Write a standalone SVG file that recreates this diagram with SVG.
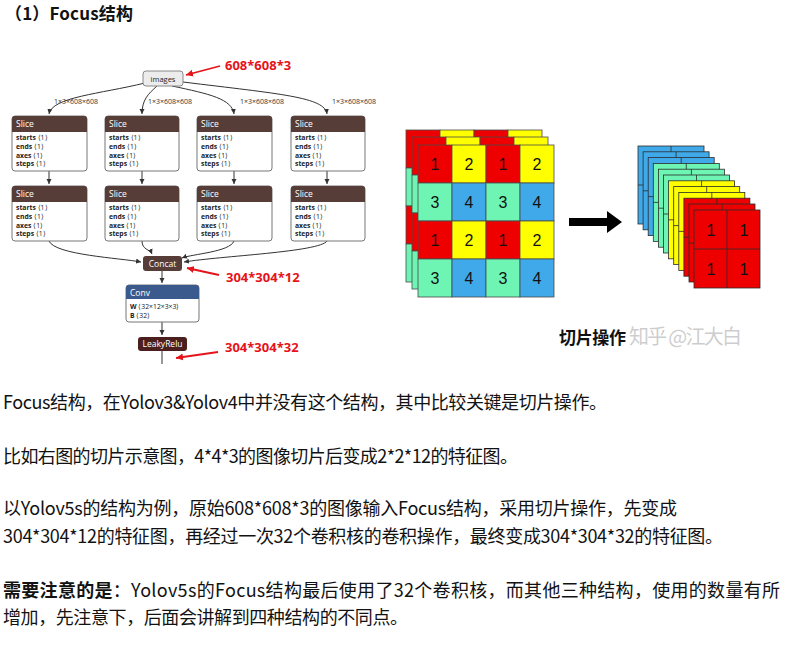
<svg xmlns="http://www.w3.org/2000/svg" xmlns:xlink="http://www.w3.org/1999/xlink" width="794" height="660" viewBox="0 0 794 660">
<style>
.body{font-family:"Noto Sans CJK SC","Microsoft YaHei",sans-serif;font-size:18px;fill:#121212}
.title{font-family:"Noto Sans CJK SC",sans-serif;font-size:17px;font-weight:bold;fill:#121212}
.edge{fill:none;stroke:#333;stroke-width:1}
.elabel{font-family:"Open Sans","Liberation Sans",sans-serif;font-size:7px;fill:#333}
.hdr{font-family:"Open Sans","Liberation Sans",sans-serif;font-size:8.5px;fill:#fff}
.attr{font-family:"Open Sans","Liberation Sans",sans-serif;font-size:6.8px;fill:#222}
.attr tspan.k{font-weight:bold}
.slice-box{fill:#fff;stroke:#777;stroke-width:1}
.red{font-family:"Noto Sans","Liberation Sans",sans-serif;font-size:13px;font-weight:bold;fill:#e5141b}
.redline{stroke:#e5141b;stroke-width:1.8;fill:none}
.cell{stroke:#4a4a4a;stroke-width:0.8}
.num{font-family:"Liberation Sans",sans-serif;font-size:16px;fill:#111;text-anchor:middle}
.lay{stroke:#2b2b2b;stroke-width:0.8}
</style>
<defs>
<marker id="ah" markerWidth="6" markerHeight="6" refX="5" refY="3" orient="auto" markerUnits="userSpaceOnUse"><path d="M0,0.5 L5,3 L0,5.5 Z" fill="#333"/></marker>
<marker id="rah" markerWidth="8" markerHeight="8" refX="7" refY="4" orient="auto" markerUnits="userSpaceOnUse"><path d="M0,0.5 L7,4 L0,7.5 Z" fill="#e5141b"/></marker>
<g id="lay"><rect width="66" height="78" class="lay"/><path d="M33,0V78M0,39H66" fill="none" stroke="#2b2b2b" stroke-width="0.8"/></g>
<g id="grid">
<rect x="0" y="0" width="34" height="38" fill="#ee0000" class="cell"/><rect x="34" y="0" width="34" height="38" fill="#ffff00" class="cell"/><rect x="68" y="0" width="34" height="38" fill="#ee0000" class="cell"/><rect x="102" y="0" width="34" height="38" fill="#ffff00" class="cell"/>
<rect x="0" y="38" width="34" height="38" fill="#6ef5b4" class="cell"/><rect x="34" y="38" width="34" height="38" fill="#3fa9ea" class="cell"/><rect x="68" y="38" width="34" height="38" fill="#6ef5b4" class="cell"/><rect x="102" y="38" width="34" height="38" fill="#3fa9ea" class="cell"/>
<rect x="0" y="76" width="34" height="38" fill="#ee0000" class="cell"/><rect x="34" y="76" width="34" height="38" fill="#ffff00" class="cell"/><rect x="68" y="76" width="34" height="38" fill="#ee0000" class="cell"/><rect x="102" y="76" width="34" height="38" fill="#ffff00" class="cell"/>
<rect x="0" y="114" width="34" height="38" fill="#6ef5b4" class="cell"/><rect x="34" y="114" width="34" height="38" fill="#3fa9ea" class="cell"/><rect x="68" y="114" width="34" height="38" fill="#6ef5b4" class="cell"/><rect x="102" y="114" width="34" height="38" fill="#3fa9ea" class="cell"/>
</g>
</defs>
<rect width="794" height="660" fill="#fff"/>

<text class="title" x="5" y="20" textLength="128">（1）Focus结构</text>

<!-- connectors -->
<g id="connectors">
<path class="edge" d="M145,83 C100,94 52,97 49,114" marker-end="url(#ah)"/>
<path class="edge" d="M157,86 C148,94 142,100 142,114" marker-end="url(#ah)"/>
<path class="edge" d="M172,86 C210,94 232,99 234,114" marker-end="url(#ah)"/>
<path class="edge" d="M183,82 C280,94 325,97 327,114" marker-end="url(#ah)"/>
<path class="edge" d="M49,171 V184" marker-end="url(#ah)"/>
<path class="edge" d="M142,171 V184" marker-end="url(#ah)"/>
<path class="edge" d="M234,171 V184" marker-end="url(#ah)"/>
<path class="edge" d="M327,171 V184" marker-end="url(#ah)"/>
<path class="edge" d="M49,241 C55,255 120,258 141,262" marker-end="url(#ah)"/>
<path class="edge" d="M142,241 C142,250 150,249 152,254" marker-end="url(#ah)"/>
<path class="edge" d="M234,241 C230,252 192,254 182,258" marker-end="url(#ah)"/>
<path class="edge" d="M327,241 C320,252 220,256 184,262" marker-end="url(#ah)"/>
<path class="edge" d="M162,271 V283" marker-end="url(#ah)"/>
<path class="edge" d="M162,322 V335" marker-end="url(#ah)"/>
<path class="edge" d="M162,351 V364"/>
<text class="elabel" x="54" y="104">1×3×608×608</text>
<text class="elabel" x="148" y="104">1×3×608×608</text>
<text class="elabel" x="240" y="104">1×3×608×608</text>
<text class="elabel" x="332" y="104">1×3×608×608</text>
</g>

<!-- nodes -->
<g id="images">
<rect x="143" y="71" width="40" height="15" rx="3" fill="#ececec" stroke="#888" stroke-width="1"/>
<text x="163" y="81.5" text-anchor="middle" font-family="Open Sans, Liberation Sans, sans-serif" font-size="7.5" fill="#222">images</text>
</g>

<g id="slice1"><rect class="slice-box" x="12" y="116" width="75" height="55" rx="3"/><path d="M12,132 V119 Q12,116 15,116 H84 Q87,116 87,119 V132 Z" fill="#573d37"/><text class="hdr" x="16" y="127">Slice</text>
<text class="attr" x="16" y="140"><tspan class="k">starts</tspan> ⟨1⟩</text><text class="attr" x="16" y="149"><tspan class="k">ends</tspan> ⟨1⟩</text><text class="attr" x="16" y="157.5"><tspan class="k">axes</tspan> ⟨1⟩</text><text class="attr" x="16" y="166"><tspan class="k">steps</tspan> ⟨1⟩</text></g>
<g id="slice2"><rect class="slice-box" x="105" y="116" width="74" height="55" rx="3"/><path d="M105,132 V119 Q105,116 108,116 H176 Q179,116 179,119 V132 Z" fill="#573d37"/><text class="hdr" x="109" y="127">Slice</text>
<text class="attr" x="109" y="140"><tspan class="k">starts</tspan> ⟨1⟩</text><text class="attr" x="109" y="149"><tspan class="k">ends</tspan> ⟨1⟩</text><text class="attr" x="109" y="157.5"><tspan class="k">axes</tspan> ⟨1⟩</text><text class="attr" x="109" y="166"><tspan class="k">steps</tspan> ⟨1⟩</text></g>
<g id="slice3"><rect class="slice-box" x="197" y="116" width="75" height="55" rx="3"/><path d="M197,132 V119 Q197,116 200,116 H269 Q272,116 272,119 V132 Z" fill="#573d37"/><text class="hdr" x="201" y="127">Slice</text>
<text class="attr" x="201" y="140"><tspan class="k">starts</tspan> ⟨1⟩</text><text class="attr" x="201" y="149"><tspan class="k">ends</tspan> ⟨1⟩</text><text class="attr" x="201" y="157.5"><tspan class="k">axes</tspan> ⟨1⟩</text><text class="attr" x="201" y="166"><tspan class="k">steps</tspan> ⟨1⟩</text></g>
<g id="slice4"><rect class="slice-box" x="291" y="116" width="74" height="55" rx="3"/><path d="M291,132 V119 Q291,116 294,116 H362 Q365,116 365,119 V132 Z" fill="#573d37"/><text class="hdr" x="295" y="127">Slice</text>
<text class="attr" x="295" y="140"><tspan class="k">starts</tspan> ⟨1⟩</text><text class="attr" x="295" y="149"><tspan class="k">ends</tspan> ⟨1⟩</text><text class="attr" x="295" y="157.5"><tspan class="k">axes</tspan> ⟨1⟩</text><text class="attr" x="295" y="166"><tspan class="k">steps</tspan> ⟨1⟩</text></g>

<g id="slice5"><rect class="slice-box" x="12" y="186" width="75" height="55" rx="3"/><path d="M12,202 V189 Q12,186 15,186 H84 Q87,186 87,189 V202 Z" fill="#573d37"/><text class="hdr" x="16" y="197">Slice</text>
<text class="attr" x="16" y="210"><tspan class="k">starts</tspan> ⟨1⟩</text><text class="attr" x="16" y="219"><tspan class="k">ends</tspan> ⟨1⟩</text><text class="attr" x="16" y="227.5"><tspan class="k">axes</tspan> ⟨1⟩</text><text class="attr" x="16" y="236"><tspan class="k">steps</tspan> ⟨1⟩</text></g>
<g id="slice6"><rect class="slice-box" x="105" y="186" width="74" height="55" rx="3"/><path d="M105,202 V189 Q105,186 108,186 H176 Q179,186 179,189 V202 Z" fill="#573d37"/><text class="hdr" x="109" y="197">Slice</text>
<text class="attr" x="109" y="210"><tspan class="k">starts</tspan> ⟨1⟩</text><text class="attr" x="109" y="219"><tspan class="k">ends</tspan> ⟨1⟩</text><text class="attr" x="109" y="227.5"><tspan class="k">axes</tspan> ⟨1⟩</text><text class="attr" x="109" y="236"><tspan class="k">steps</tspan> ⟨1⟩</text></g>
<g id="slice7"><rect class="slice-box" x="197" y="186" width="75" height="55" rx="3"/><path d="M197,202 V189 Q197,186 200,186 H269 Q272,186 272,189 V202 Z" fill="#573d37"/><text class="hdr" x="201" y="197">Slice</text>
<text class="attr" x="201" y="210"><tspan class="k">starts</tspan> ⟨1⟩</text><text class="attr" x="201" y="219"><tspan class="k">ends</tspan> ⟨1⟩</text><text class="attr" x="201" y="227.5"><tspan class="k">axes</tspan> ⟨1⟩</text><text class="attr" x="201" y="236"><tspan class="k">steps</tspan> ⟨1⟩</text></g>
<g id="slice8"><rect class="slice-box" x="291" y="186" width="74" height="55" rx="3"/><path d="M291,202 V189 Q291,186 294,186 H362 Q365,186 365,189 V202 Z" fill="#573d37"/><text class="hdr" x="295" y="197">Slice</text>
<text class="attr" x="295" y="210"><tspan class="k">starts</tspan> ⟨1⟩</text><text class="attr" x="295" y="219"><tspan class="k">ends</tspan> ⟨1⟩</text><text class="attr" x="295" y="227.5"><tspan class="k">axes</tspan> ⟨1⟩</text><text class="attr" x="295" y="236"><tspan class="k">steps</tspan> ⟨1⟩</text></g>

<g id="concat"><rect x="143" y="256" width="39" height="15" rx="3" fill="#573d37"/><text class="hdr" x="162.5" y="266.5" text-anchor="middle">Concat</text></g>

<g id="conv"><rect class="slice-box" x="126" y="285" width="73" height="37" rx="3"/><path d="M126,299 V288 Q126,285 129,285 H196 Q199,285 199,288 V299 Z" fill="#3a5a8e"/><text class="hdr" x="130" y="295.5">Conv</text>
<text class="attr" x="130" y="309"><tspan class="k">W</tspan> ⟨32×12×3×3⟩</text><text class="attr" x="130" y="318"><tspan class="k">B</tspan> ⟨32⟩</text></g>

<g id="leakyrelu"><rect x="138" y="337" width="49" height="14" rx="3" fill="#4b1f1e"/><text class="hdr" x="162.5" y="347" text-anchor="middle">LeakyRelu</text></g>

<g id="annotations">
<path class="redline" d="M220,66 L186,75" marker-end="url(#rah)"/>
<text class="red" x="225" y="70">608*608*3</text>
<path class="redline" d="M219,275 L187,268" marker-end="url(#rah)"/>
<text class="red" x="226" y="282">304*304*12</text>
<path class="redline" d="M218,352 L176,358" marker-end="url(#rah)"/>
<text class="red" x="225" y="352">304*304*32</text>
</g>

<!-- 4x4x3 image -->
<g id="image443">
<use xlink:href="#grid" x="406" y="130"/>
<use xlink:href="#grid" x="412" y="137"/>
<use xlink:href="#grid" x="418" y="145"/>
<g>
<text class="num" x="435" y="170">1</text><text class="num" x="469" y="170">2</text><text class="num" x="503" y="170">1</text><text class="num" x="537" y="170">2</text>
<text class="num" x="435" y="208">3</text><text class="num" x="469" y="208">4</text><text class="num" x="503" y="208">3</text><text class="num" x="537" y="208">4</text>
<text class="num" x="435" y="246">1</text><text class="num" x="469" y="246">2</text><text class="num" x="503" y="246">1</text><text class="num" x="537" y="246">2</text>
<text class="num" x="435" y="284">3</text><text class="num" x="469" y="284">4</text><text class="num" x="503" y="284">3</text><text class="num" x="537" y="284">4</text>
</g>
</g>

<g id="bigarrow"><path d="M569,218 H607 V211 L622,222 L607,233 V226 H569 Z" fill="#000"/></g>

<g id="stack">
<use xlink:href="#lay" x="638" y="146" fill="#3fa9ea"/>
<use xlink:href="#lay" x="643.1" y="151.8" fill="#3fa9ea"/>
<use xlink:href="#lay" x="648.2" y="157.6" fill="#3fa9ea"/>
<use xlink:href="#lay" x="653.3" y="163.4" fill="#6ef5b4"/>
<use xlink:href="#lay" x="658.4" y="169.2" fill="#6ef5b4"/>
<use xlink:href="#lay" x="663.5" y="175" fill="#6ef5b4"/>
<use xlink:href="#lay" x="668.6" y="180.8" fill="#ffff00"/>
<use xlink:href="#lay" x="673.7" y="186.6" fill="#ffff00"/>
<use xlink:href="#lay" x="678.8" y="192.4" fill="#ffff00"/>
<use xlink:href="#lay" x="683.9" y="198.2" fill="#ee0000"/>
<use xlink:href="#lay" x="689" y="204" fill="#ee0000"/>
<use xlink:href="#lay" x="694" y="210" fill="#ee0000"/>
<text class="num" x="711" y="236">1</text><text class="num" x="744" y="236">1</text>
<text class="num" x="711" y="275">1</text><text class="num" x="744" y="275">1</text>
</g>

<text x="559" y="344" font-family="Noto Sans CJK SC, sans-serif" font-size="17" font-weight="bold" fill="#111" textLength="67">切片操作</text>
<text x="629" y="344" font-family="Noto Sans CJK SC, sans-serif" font-size="20" fill="#bdbdbd" fill-opacity="0.75" textLength="113">知乎 @江大白</text>

<!-- body text -->
<text class="body" x="3" y="409" textLength="604">Focus结构，在Yolov3&amp;Yolov4中并没有这个结构，其中比较关键是切片操作。</text>
<text class="body" x="3" y="463" textLength="515">比如右图的切片示意图，4*4*3的图像切片后变成2*2*12的特征图。</text>
<text class="body" x="3" y="515" textLength="674">以Yolov5s的结构为例，原始608*608*3的图像输入Focus结构，采用切片操作，先变成</text>
<text class="body" x="3" y="543" textLength="720">304*304*12的特征图，再经过一次32个卷积核的卷积操作，最终变成304*304*32的特征图。</text>
<text class="body" x="3" y="597" textLength="777"><tspan font-weight="bold">需要注意的是</tspan>：Yolov5s的Focus结构最后使用了32个卷积核，而其他三种结构，使用的数量有所</text>
<text class="body" x="3" y="624" textLength="405">增加，先注意下，后面会讲解到四种结构的不同点。</text>
</svg>
